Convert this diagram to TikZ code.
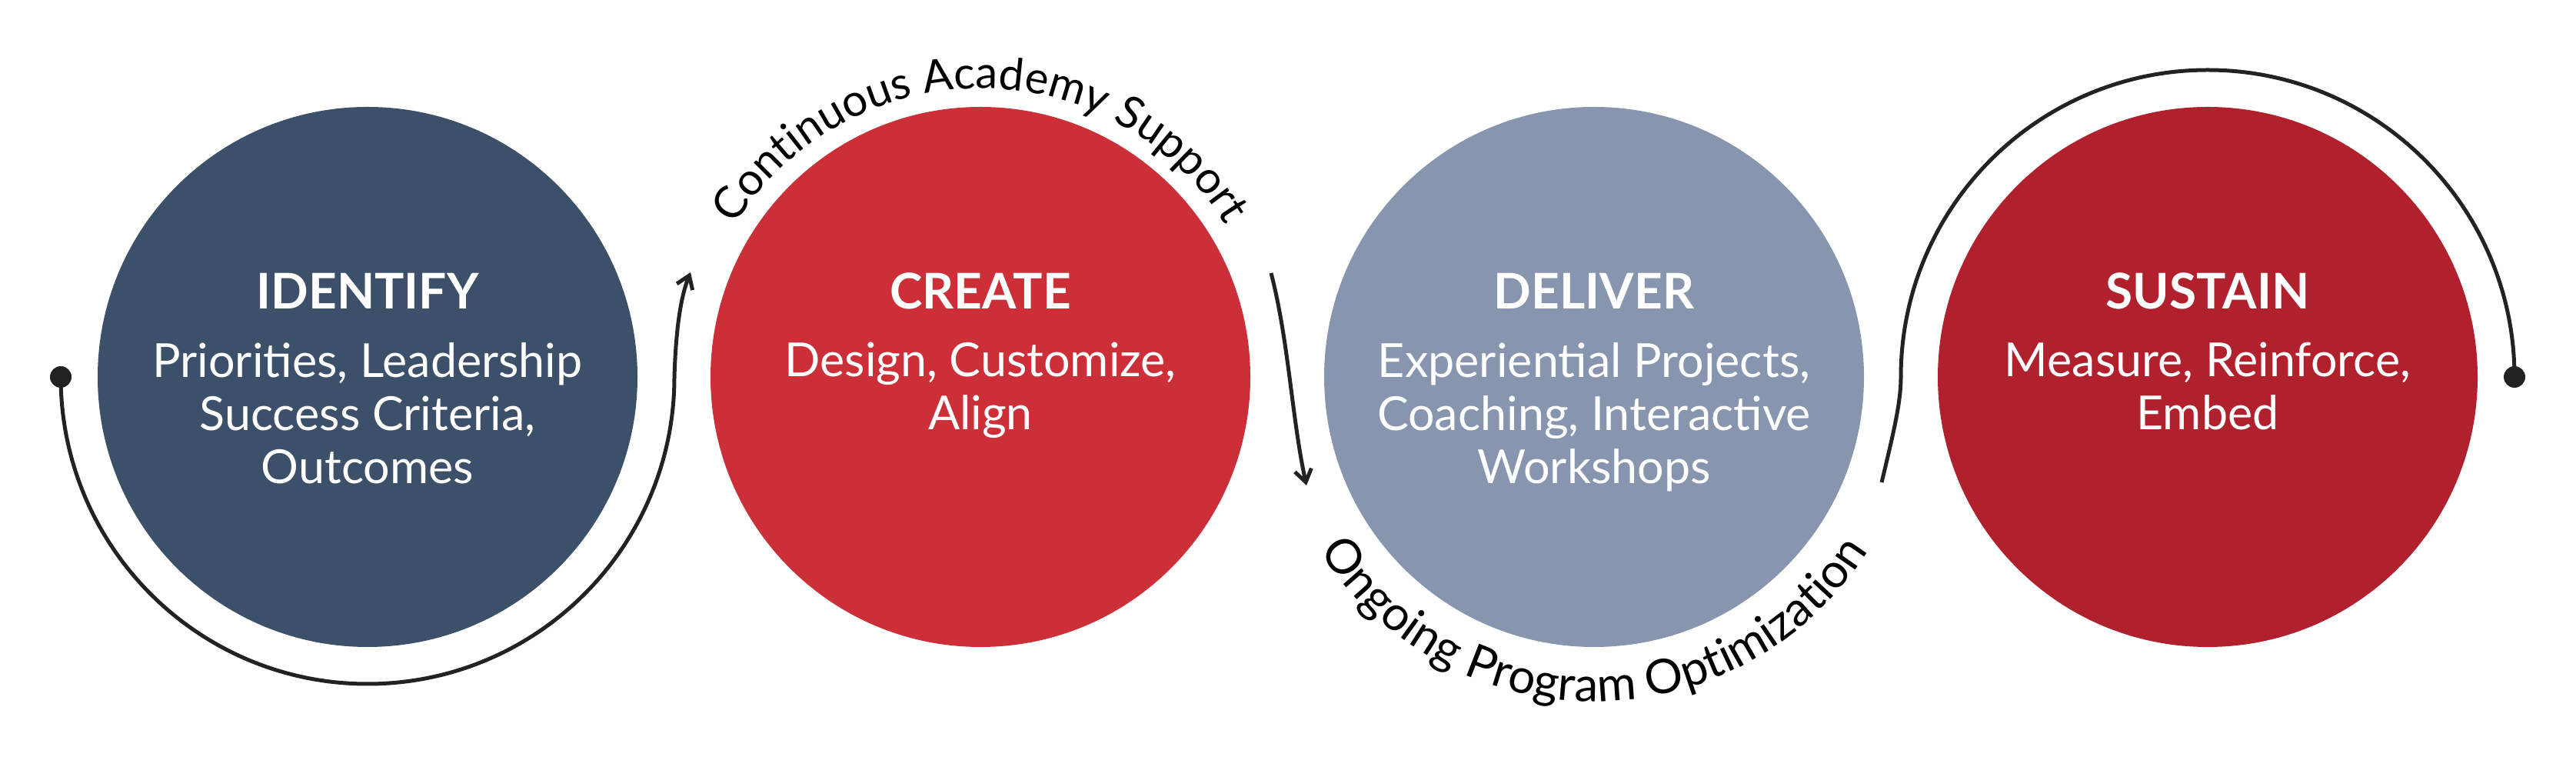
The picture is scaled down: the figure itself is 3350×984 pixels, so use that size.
\documentclass[tikz,border=0pt]{standalone}
\usepackage{fontspec}
\setmainfont{Lato}
\usetikzlibrary{arrows.meta,decorations.text}
\definecolor{navy}{HTML}{3D5069}
\definecolor{brightred}{HTML}{CC2F38}
\definecolor{slate}{HTML}{8795AF}
\definecolor{darkred}{HTML}{B1202D}
\definecolor{ink}{HTML}{222222}
\tikzset{
    stage/.style={ circle, minimum size=702pt, inner sep=0pt },
    title/.style={ anchor=base, text=white, font=\fontsize{64}{69}\selectfont\bfseries },
    body/.style={ anchor=north, text=white, align=center, inner sep=0pt, font=\fontsize{61}{69}\selectfont },
    flow/.style={ ink, line width=5pt },
    tip/.style={ -{Straight Barb[length=16pt,width=22pt,line width=5pt]} },
    dot/.style={ ink, fill }
}
\begin{document}
\begin{tikzpicture}[x=1pt,y=1pt]
        \useasboundingbox (0,0) rectangle (3350,984);

        \node[stage, fill=navy]       (identify) at (478,494)  {};
        \node[stage, fill=brightred]  (create)   at (1275,494) {};
        \node[stage, fill=slate]      (deliver)  at (2073,494) {};
        \node[stage, fill=darkred]    (sustain)  at (2871,494) {};

        \node[title] at ([yshift=88pt]identify.center) {IDENTIFY};
        \node[body]  at ([yshift=45pt]identify.center) {Priorities, Leadership\\Success Criteria,\\Outcomes};
        \node[title] at ([yshift=88pt]create.center) {CREATE};
        \node[body]  at ([yshift=45pt]create.center) {Design, Customize,\\Align};
        \node[title] at ([yshift=88pt]deliver.center) {DELIVER};
        \node[body]  at ([yshift=45pt]deliver.center) {Experiential Projects,\\Coaching, Interactive\\Workshops};
        \node[title] at ([yshift=88pt]sustain.center) {SUSTAIN};
        \node[body]  at ([yshift=45pt]sustain.center) {Measure, Reinforce,\\Embed};

        % left loop into create
        \coordinate (startdot) at ([xshift=-399pt]identify.center);
        \coordinate (identr) at ([xshift=399pt]identify.center);
        \coordinate (createin) at (898,630);
        \draw[flow, tip] (startdot) arc (180:360:399pt)
            .. controls ([shift={(2pt,66pt)}]identr) and ([shift={(9pt,106pt)}]identr) .. (createin);
        \fill[dot] (startdot) circle (14pt);

        % create into deliver
        \coordinate (createout) at (1653,629);
        \coordinate (deliverin) at (1699,353);
        \draw[flow, tip] (createout) .. controls (1676,540) and (1680,440) .. (deliverin);

        % deliver into sustain, loop to end
        \coordinate (deliverout) at (2447,357);
        \coordinate (sustainl) at ([xshift=-399pt]sustain.center);
        \coordinate (enddot) at ([xshift=399pt]sustain.center);
        \draw[flow] (deliverout) .. controls (2462,420) and (2472,460) .. (sustainl)
            arc (180:0:399pt);
        \fill[dot] (enddot) circle (14pt);

        % curved labels
        \path[decorate, decoration={text along path, text align=center,
            text={|\fontsize{58}{60}\selectfont|Continuous Academy Support}}]
            ([shift={(152:375pt)}]create.center) arc (152:28:375pt);
        \path[decorate, decoration={text along path, text align=center,
            text={|\fontsize{62}{64}\selectfont|Ongoing Program Optimization}}]
            ([shift={(204:422pt)}]deliver.center) arc (204:336:422pt);
    \end{tikzpicture}
\end{document}
